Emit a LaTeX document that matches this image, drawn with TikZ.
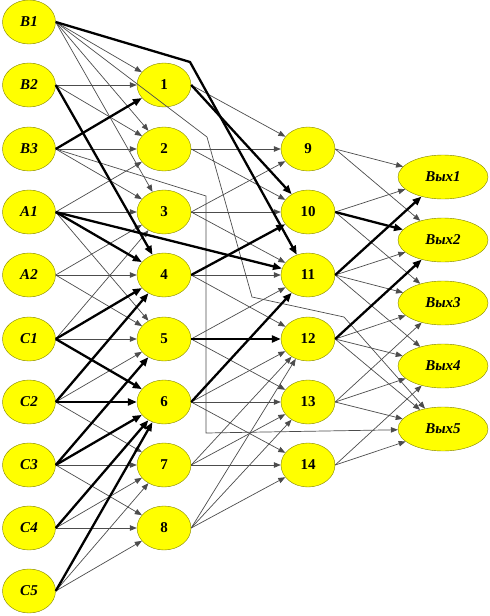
\documentclass[tikz,border=0pt]{standalone}
\usepackage{fontspec}
\setmainfont{Liberation Serif}
\usepackage{xcolor}
\usetikzlibrary{arrows.meta,shapes.geometric}
\definecolor{olv}{RGB}{128,128,0}
\definecolor{yel}{RGB}{255,255,0}

\begin{document}
\begin{tikzpicture}[x=1pt,y=-1pt,
  inp/.style={ellipse,draw=olv,fill=yel,minimum width=53pt,minimum height=44pt,inner sep=0pt,font=\fontsize{15}{17}\selectfont\bfseries\itshape},
  hid/.style={ellipse,draw=olv,fill=yel,minimum width=54pt,minimum height=44pt,inner sep=0pt,font=\fontsize{15}{17}\selectfont\bfseries},
  outp/.style={ellipse,draw=olv,fill=yel,minimum width=90pt,minimum height=44pt,inner sep=0pt,font=\fontsize{15}{17}\selectfont\bfseries\itshape},
  ln/.style={draw=black!70,line width=0.7pt,-{Triangle[length=7pt,width=5.5pt]}},
  thk/.style={draw=black,line width=2.3pt,-{Triangle[length=9pt,width=7pt]}}]
  \useasboundingbox (0,0) rectangle (490,616);

  % inputs
  \node[inp] (B1) at (29,22) {B1};
  \node[inp] (B2) at (29,85) {B2};
  \node[inp] (B3) at (29,149) {B3};
  \node[inp] (A1) at (29,212) {A1};
  \node[inp] (A2) at (29,275) {A2};
  \node[inp] (C1) at (29,339) {C1};
  \node[inp] (C2) at (29,402) {C2};
  \node[inp] (C3) at (29,465) {C3};
  \node[inp] (C4) at (29,528) {C4};
  \node[inp] (C5) at (29,591) {C5};

  % first hidden layer
  \node[hid] (n1) at (164,85) {1};
  \node[hid] (n2) at (164,149) {2};
  \node[hid] (n3) at (164,212) {3};
  \node[hid] (n4) at (164,275) {4};
  \node[hid] (n5) at (164,339) {5};
  \node[hid] (n6) at (164,402) {6};
  \node[hid] (n7) at (164,465) {7};
  \node[hid] (n8) at (164,528) {8};

  % second hidden layer
  \node[hid] (n9) at (308,149) {9};
  \node[hid] (n10) at (308,212) {10};
  \node[hid] (n11) at (308,275) {11};
  \node[hid] (n12) at (308,339) {12};
  \node[hid] (n13) at (308,402) {13};
  \node[hid] (n14) at (308,465) {14};

  % outputs
  \node[outp] (o1) at (443,177) {Вых1};
  \node[outp] (o2) at (443,240) {Вых2};
  \node[outp] (o3) at (443,303) {Вых3};
  \node[outp] (o4) at (443,366) {Вых4};
  \node[outp] (o5) at (443,429) {Вых5};

  % bends
  \coordinate (k1) at (190,62);
  \coordinate (k2) at (207,137);
  \coordinate (k3) at (252,297);
  \coordinate (k4) at (344,317);
  \coordinate (k5) at (206,196);
  \coordinate (k6) at (206,433);

  % thin links
  \path (B1.east) edge[ln] (n1) edge[ln] (n2) edge[ln] (n3);
  \path (B2.east) edge[ln] (n1) edge[ln] (n2);
  \path (B3.east) edge[ln] (n2) edge[ln] (n3);
  \path (A1.east) edge[ln] (n2) edge[ln] (n3) edge[ln] (n5);
  \path (A2.east) edge[ln] (n3) edge[ln] (n4) edge[ln] (n5);
  \path (C1.east) edge[ln] (n3) edge[ln] (n5);
  \path (C2.east) edge[ln] (n5) edge[ln] (n7);
  \path (C3.east) edge[ln] (n7) edge[ln] (n8);
  \path (C4.east) edge[ln] (n7) edge[ln] (n8);
  \path (C5.east) edge[ln] (n7) edge[ln] (n8);
  \path (n1.east) edge[ln] (n9);
  \path (n2.east) edge[ln] (n9) edge[ln] (n10);
  \path (n3.east) edge[ln] (n9) edge[ln] (n10) edge[ln] (n11);
  \path (n4.east) edge[ln] (n11) edge[ln] (n12);
  \path (n5.east) edge[ln] (n11) edge[ln] (n13);
  \path (n6.east) edge[ln] (n12) edge[ln] (n13) edge[ln] (n14);
  \path (n7.east) edge[ln] (n12) edge[ln] (n13) edge[ln] (n14);
  \path (n8.east) edge[ln] (n12) edge[ln] (n13) edge[ln] (n14);
  \path (n9.east) edge[ln] (o1) edge[ln] (o2);
  \path (n10.east) edge[ln] (o1) edge[ln] (o3);
  \path (n11.east) edge[ln] (o2) edge[ln] (o3) edge[ln] (o4);
  \path (n12.east) edge[ln] (o3) edge[ln] (o4) edge[ln] (o5);
  \path (n13.east) edge[ln] (o3) edge[ln] (o4) edge[ln] (o5);
  \path (n14.east) edge[ln] (o4) edge[ln] (o5);
  \draw[ln] (B1.east) -- (k2) -- (k3) -- (k4) -- (o5);
  \draw[ln] (B3.east) -- (k5) -- (k6) -- (o5);

  % thick links
  \draw[thk] (B1.east) -- (k1) -- (n11);
  \path (B2.east) edge[thk] (n4);
  \path (B3.east) edge[thk] (n1);
  \path (A1.east) edge[thk] (n4) edge[thk] (n11);
  \path (C1.east) edge[thk] (n4) edge[thk] (n6);
  \path (C2.east) edge[thk] (n4) edge[thk] (n6);
  \path (C3.east) edge[thk] (n5) edge[thk] (n6);
  \path (C4.east) edge[thk] (n6);
  \path (C5.east) edge[thk] (n6);
  \path (n1.east) edge[thk] (n10);
  \path (n4.east) edge[thk] (n10);
  \path (n5.east) edge[thk] (n12);
  \path (n6.east) edge[thk] (n11);
  \path (n10.east) edge[thk] (o2);
  \path (n11.east) edge[thk] (o1);
  \path (n12.east) edge[thk] (o2);
\end{tikzpicture}
\end{document}
